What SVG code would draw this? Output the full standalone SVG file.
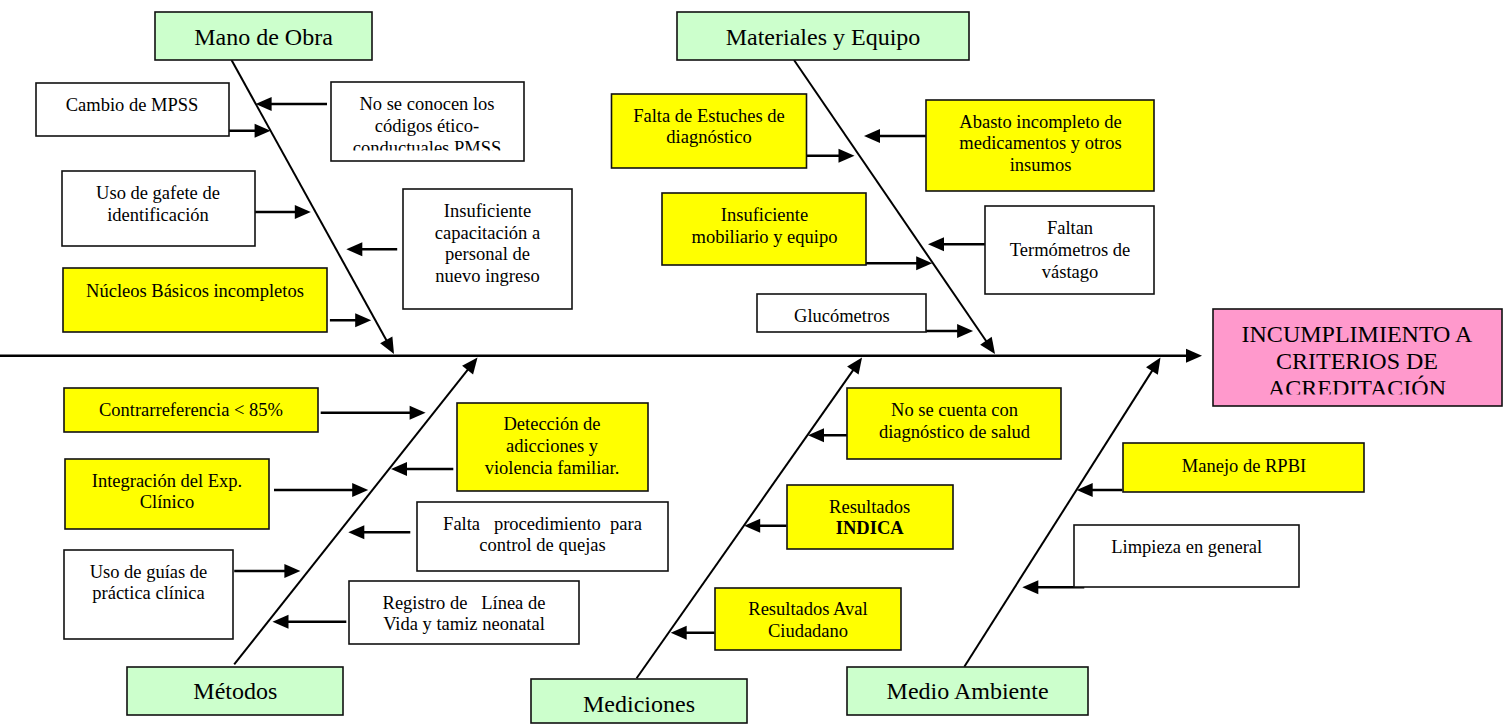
<svg xmlns="http://www.w3.org/2000/svg" width="1508" height="724" viewBox="0 0 1508 724">
<style>
text{font-family:"Liberation Serif","Times New Roman",serif;fill:#000}
.s{font-size:18.5px;text-anchor:middle}
.h{font-size:24px;text-anchor:middle}
.bx{stroke:#111;stroke-width:1.6}
.g{fill:#CCFFCC}.y{fill:#FFFF00}.w{fill:#FFFFFF}.p{fill:#FF99CC}
.ar{stroke:#000;stroke-width:2.5;fill:none;marker-end:url(#ah)}
.bn{stroke:#000;stroke-width:2;fill:none;marker-end:url(#ah)}
.sp{stroke:#000;stroke-width:2.6;fill:none;marker-end:url(#ah)}
</style>
<defs>
<marker id="ah" markerUnits="userSpaceOnUse" markerWidth="16" markerHeight="14" refX="10" refY="7" orient="auto" overflow="visible"><path d="M0,0 L16,7 L0,14 z" fill="#000"/></marker>
<clipPath id="c1"><rect x="331" y="82" width="193" height="68.5"/></clipPath>
<clipPath id="c2"><rect x="1213" y="309" width="289" height="85.5"/></clipPath>
</defs>
<rect x="0" y="0" width="1508" height="724" fill="#fff"/>

<g id="connectors">
<line class="sp" x1="0" y1="355.7" x2="1196" y2="355.7"/>
<line class="bn" x1="231.5" y1="60" x2="391.1" y2="348.7"/>
<line class="bn" x1="794" y1="60" x2="991.6" y2="349"/>
<line class="bn" x1="234.2" y1="664.3" x2="473.8" y2="362.2"/>
<line class="bn" x1="636.6" y1="678.3" x2="858.6" y2="362.4"/>
<line class="bn" x1="964.3" y1="666.7" x2="1157.3" y2="362.6"/>
<line class="ar" x1="228.5" y1="130.7" x2="264.6" y2="130.7"/>
<line class="ar" x1="327" y1="104" x2="261.6" y2="104"/>
<line class="ar" x1="254.5" y1="212" x2="304.8" y2="212"/>
<line class="ar" x1="397.2" y1="249.3" x2="352.3" y2="249.3"/>
<line class="ar" x1="329.9" y1="320.3" x2="365.2" y2="320.3"/>
<line class="ar" x1="806.7" y1="155.7" x2="848.5" y2="155.7"/>
<line class="ar" x1="926.4" y1="136" x2="870" y2="136"/>
<line class="ar" x1="866" y1="263.3" x2="926.2" y2="263.3"/>
<line class="ar" x1="985.4" y1="244.3" x2="934" y2="244.3"/>
<line class="ar" x1="926" y1="331" x2="967.1" y2="331"/>
<line class="ar" x1="320.7" y1="412.7" x2="419.6" y2="412.7"/>
<line class="ar" x1="453.3" y1="469" x2="397" y2="469"/>
<line class="ar" x1="274" y1="490" x2="362.2" y2="490"/>
<line class="ar" x1="410.3" y1="532.3" x2="354.3" y2="532.3"/>
<line class="ar" x1="234.2" y1="571" x2="294.4" y2="571"/>
<line class="ar" x1="346.3" y1="621.7" x2="278.5" y2="621.7"/>
<line class="ar" x1="847.5" y1="435.3" x2="814" y2="435.3"/>
<line class="ar" x1="786.6" y1="525.7" x2="750.2" y2="525.7"/>
<line class="ar" x1="714.7" y1="632.7" x2="676.7" y2="632.7"/>
<line class="ar" x1="1122.3" y1="490" x2="1082.7" y2="490"/>
<line class="ar" x1="1084.3" y1="587.3" x2="1028.3" y2="587.3"/>
</g>

<g id="mano-de-obra"><rect class="bx g" x="155" y="12" width="217" height="48"/><text class="h" x="263.5" y="45">Mano de Obra</text></g>
<g id="materiales-y-equipo"><rect class="bx g" x="677" y="12" width="292" height="48"/><text class="h" x="823" y="45">Materiales y Equipo</text></g>
<g id="metodos"><rect class="bx g" x="127" y="667" width="216" height="48"/><text class="h" x="235.3" y="699.3">Métodos</text></g>
<g id="mediciones"><rect class="bx g" x="531" y="679" width="216" height="44"/><text class="h" x="639" y="711.7">Mediciones</text></g>
<g id="medio-ambiente"><rect class="bx g" x="847" y="667" width="241" height="48"/><text class="h" x="967.6" y="699.3">Medio Ambiente</text></g>

<g id="efecto"><rect class="bx p" x="1213" y="309" width="289" height="97"/>
<g clip-path="url(#c2)"><text class="h" x="1357" y="341.7">INCUMPLIMIENTO A</text><text class="h" x="1357" y="369">CRITERIOS DE</text><text class="h" x="1357" y="396.3">ACREDITACIÓN</text></g></g>

<g id="cambio-mpss"><rect class="bx w" x="36" y="83" width="193" height="53"/><text class="s" x="132" y="111">Cambio de MPSS</text></g>
<g id="codigos-etico"><rect class="bx w" x="331" y="82" width="193" height="79"/>
<g clip-path="url(#c1)"><text class="s" x="427" y="110">No se conocen los</text><text class="s" x="427" y="132">códigos ético-</text><text class="s" x="427" y="154">conductuales PMSS</text></g></g>
<g id="uso-gafete"><rect class="bx w" x="62" y="171" width="193" height="75"/><text class="s" x="158" y="199.3">Uso de gafete de</text><text class="s" x="158" y="220.7">identificación</text></g>
<g id="insuficiente-capacitacion"><rect class="bx w" x="403" y="189" width="169" height="120"/><text class="s" x="487.5" y="217">Insuficiente</text><text class="s" x="487.5" y="238.7">capacitación a</text><text class="s" x="487.5" y="260">personal de</text><text class="s" x="487.5" y="281.7">nuevo ingreso</text></g>
<g id="nucleos-basicos"><rect class="bx y" x="63" y="268" width="264" height="64"/><text class="s" x="195" y="296.7">Núcleos Básicos incompletos</text></g>

<g id="falta-estuches"><rect class="bx y" x="611.5" y="94" width="195" height="74"/><text class="s" x="709" y="121.7">Falta de Estuches de</text><text class="s" x="709" y="143.3">diagnóstico</text></g>
<g id="abasto-incompleto"><rect class="bx y" x="926" y="100" width="228" height="91"/><text class="s" x="1040.5" y="127.7">Abasto incompleto de</text><text class="s" x="1040.5" y="149.3">medicamentos y otros</text><text class="s" x="1040.5" y="170.7">insumos</text></g>
<g id="insuficiente-mobiliario"><rect class="bx y" x="662" y="193" width="204" height="72"/><text class="s" x="764.5" y="220.7">Insuficiente</text><text class="s" x="764.5" y="242.7">mobiliario y equipo</text></g>
<g id="faltan-termometros"><rect class="bx w" x="985" y="206" width="169" height="88"/><text class="s" x="1070" y="234.3">Faltan</text><text class="s" x="1070" y="255.7">Termómetros de</text><text class="s" x="1070" y="277.7">vástago</text></g>
<g id="glucometros"><rect class="bx w" x="757" y="294" width="169" height="38"/><text class="s" x="841.8" y="321.7">Glucómetros</text></g>

<g id="contrarreferencia"><rect class="bx y" x="64" y="388" width="254" height="44"/><text class="s" x="191" y="415.7">Contrarreferencia &lt; 85%</text></g>
<g id="deteccion-adicciones"><rect class="bx y" x="457" y="403" width="191" height="88"/><text class="s" x="552" y="430">Detección de</text><text class="s" x="552" y="452.3">adicciones y</text><text class="s" x="552" y="473.7">violencia familiar.</text></g>
<g id="integracion-expediente"><rect class="bx y" x="65" y="459" width="204" height="70"/><text class="s" x="167" y="486.7">Integración del Exp.</text><text class="s" x="167" y="508">Clínico</text></g>
<g id="falta-procedimiento"><rect class="bx w" x="417" y="502" width="251" height="69"/><text class="s" x="542.5" y="529.7" xml:space="preserve">Falta   procedimiento  para</text><text class="s" x="542.5" y="551">control de quejas</text></g>
<g id="uso-guias"><rect class="bx w" x="64" y="550" width="169" height="89"/><text class="s" x="148.5" y="577.7">Uso de guías de</text><text class="s" x="148.5" y="599">práctica clínica</text></g>
<g id="registro-linea-vida"><rect class="bx w" x="349" y="581" width="230" height="63"/><text class="s" x="464" y="609.3" xml:space="preserve">Registro de   Línea de</text><text class="s" x="464" y="630.3">Vida y tamiz neonatal</text></g>

<g id="diagnostico-salud"><rect class="bx y" x="847" y="388" width="214" height="71"/><text class="s" x="954.5" y="416">No se cuenta con</text><text class="s" x="954.5" y="437.7">diagnóstico de salud</text></g>
<g id="resultados-indica"><rect class="bx y" x="787" y="485" width="166" height="64"/><text class="s" x="869.7" y="512.7">Resultados</text><text class="s" x="869.7" y="534" font-weight="bold">INDICA</text></g>
<g id="resultados-aval"><rect class="bx y" x="715" y="588" width="186" height="62"/><text class="s" x="808" y="615">Resultados Aval</text><text class="s" x="808" y="636.7">Ciudadano</text></g>

<g id="manejo-rpbi"><rect class="bx y" x="1123" y="443" width="241" height="49"/><text class="s" x="1244" y="471.7">Manejo de RPBI</text></g>
<g id="limpieza"><rect class="bx w" x="1074" y="525" width="225" height="62"/><text class="s" x="1186.7" y="553.3">Limpieza en general</text></g>
</svg>
